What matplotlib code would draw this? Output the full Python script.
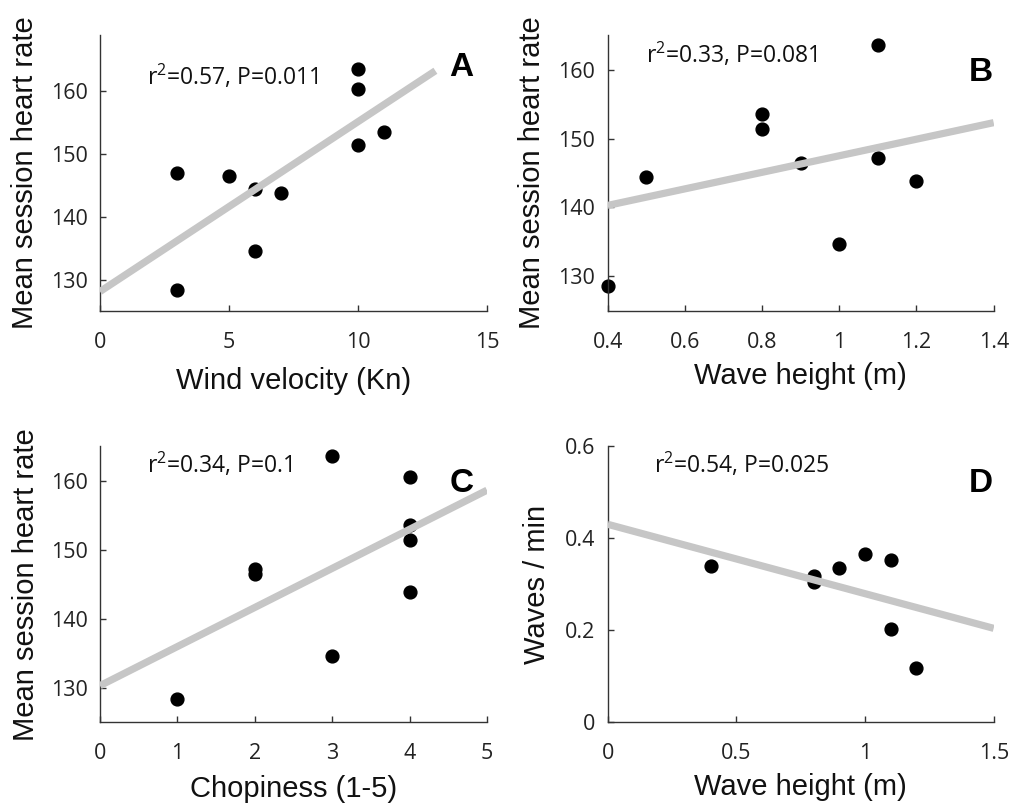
import numpy as np
import matplotlib.pyplot as plt
from matplotlib.ticker import FuncFormatter

plt.rcParams['mathtext.fontset'] = 'custom'
plt.rcParams['mathtext.rm'] = 'Open Sans'
plt.rcParams['mathtext.it'] = 'Open Sans:italic'

# panel A: wind velocity vs heart rate
wind = [3, 3, 5, 6, 6, 7, 10, 10, 10, 11]
hr_wind = [147.0, 128.4, 146.5, 144.4, 134.6, 143.8, 163.6, 160.4, 151.5, 153.5]
fit_wind_x = [0, 13]
fit_wind_y = [128.1, 163.3]

# panel B: wave height vs heart rate
wave_b = [0.4, 0.5, 0.8, 0.8, 0.9, 1.0, 1.1, 1.1, 1.2]
hr_wave = [128.6, 144.4, 153.5, 151.4, 146.5, 134.7, 163.5, 147.2, 143.9]
fit_wave_x = [0.4, 1.4]
fit_wave_y = [140.3, 152.3]

# panel C: chopiness vs heart rate
chop = [1, 2, 2, 3, 3, 4, 4, 4, 4]
hr_chop = [128.3, 147.2, 146.4, 163.6, 134.6, 160.5, 153.6, 151.4, 143.8]
fit_chop_x = [0, 5]
fit_chop_y = [130.3, 158.6]

# panel D: wave height vs waves per minute
wave_d = [0.4, 0.8, 0.8, 0.9, 1.0, 1.1, 1.1, 1.2]
wpm = [0.340, 0.318, 0.305, 0.334, 0.365, 0.352, 0.202, 0.118]
fit_wpm_x = [0, 1.5]
fit_wpm_y = [0.430, 0.204]

panels = [
    dict(x=wind, y=hr_wind, fx=fit_wind_x, fy=fit_wind_y, xlim=(0, 15), ylim=(125, 169),
         xticks=[0, 5, 10, 15], yticks=[130, 140, 150, 160],
         xlabel='Wind velocity (Kn)', ylabel='Mean session heart rate',
         stat=r'$\mathrm{r}^{2}$=0.57, P=0.011', letter='A',
         rect=[0.0988, 0.6156, 0.3824, 0.3411], stat_pos=(0.121, 0.848), let_pos=(0.934, 0.884),
         ylab_x=-0.158, xlab_y=-0.203),
    dict(x=wave_b, y=hr_wave, fx=fit_wave_x, fy=fit_wave_y, xlim=(0.4, 1.4), ylim=(125, 165),
         xticks=[0.4, 0.6, 0.8, 1.0, 1.2, 1.4], yticks=[130, 140, 150, 160],
         xlabel='Wave height (m)', ylabel='Mean session heart rate',
         stat=r'$\mathrm{r}^{2}$=0.33, P=0.081', letter='B',
         rect=[0.6005, 0.6156, 0.3814, 0.3411], stat_pos=(0.099, 0.928), let_pos=(0.967, 0.866),
         ylab_x=-0.16, xlab_y=-0.185),
    dict(x=chop, y=hr_chop, fx=fit_chop_x, fy=fit_chop_y, xlim=(0, 5), ylim=(125, 165),
         xticks=[0, 1, 2, 3, 4, 5], yticks=[130, 140, 150, 160],
         xlabel='Chopiness (1-5)', ylabel='Mean session heart rate',
         stat=r'$\mathrm{r}^{2}$=0.34, P=0.1', letter='C',
         rect=[0.0988, 0.1072, 0.3824, 0.3415], stat_pos=(0.121, 0.931), let_pos=(0.934, 0.866),
         ylab_x=-0.155, xlab_y=-0.19),
    dict(x=wave_d, y=wpm, fx=fit_wpm_x, fy=fit_wpm_y, xlim=(0, 1.5), ylim=(0, 0.6),
         xticks=[0, 0.5, 1.0, 1.5], yticks=[0, 0.2, 0.4, 0.6],
         xlabel='Wave height (m)', ylabel='Waves / min',
         stat=r'$\mathrm{r}^{2}$=0.54, P=0.025', letter='D',
         rect=[0.6005, 0.1072, 0.3814, 0.3415], stat_pos=(0.121, 0.931), let_pos=(0.967, 0.866),
         ylab_x=-0.147, xlab_y=-0.184),
]

fig = plt.figure(figsize=(10.12, 8.09), dpi=100)
fmt = FuncFormatter(lambda v, p: '%g' % v)

for p in panels:
    ax = fig.add_axes(p['rect'])
    ax.scatter(p['x'], p['y'], s=85, color='black', zorder=2, clip_on=False)
    ax.plot(p['fx'], p['fy'], color='#c6c6c6', linewidth=5.2, solid_capstyle='butt', zorder=3)
    ax.set_xlim(p['xlim'])
    ax.set_ylim(p['ylim'])
    ax.set_xticks(p['xticks'])
    ax.set_yticks(p['yticks'])
    ax.xaxis.set_major_formatter(fmt)
    ax.yaxis.set_major_formatter(fmt)
    for s in ['top', 'right']:
        ax.spines[s].set_visible(False)
    for s in ['left', 'bottom']:
        ax.spines[s].set_color('#333333')
        ax.spines[s].set_linewidth(1.0)
    ax.tick_params(direction='in', length=4, width=1, color='#333333', labelcolor='#222222')
    ax.tick_params(axis='x', pad=15)
    ax.tick_params(axis='y', pad=9)
    for lab in ax.get_xticklabels() + ax.get_yticklabels():
        lab.set_family('Open Sans')
        lab.set_fontsize(15.5)
    ax.set_xlabel(p['xlabel'], fontsize=21, family='Liberation Sans', color='#111111')
    ax.set_ylabel(p['ylabel'], fontsize=21, family='Liberation Sans', color='#111111')
    ax.xaxis.set_label_coords(0.5, p['xlab_y'])
    ax.yaxis.set_label_coords(p['ylab_x'], 0.5)
    ax.text(p['stat_pos'][0], p['stat_pos'][1], p['stat'], transform=ax.transAxes,
            fontsize=16.5, family='Open Sans', va='center', ha='left', color='#111111')
    ax.text(p['let_pos'][0], p['let_pos'][1], p['letter'], transform=ax.transAxes,
            fontsize=24, fontweight='bold', family='Liberation Sans', va='center', ha='center')

fig.savefig('out.png', dpi=100)
